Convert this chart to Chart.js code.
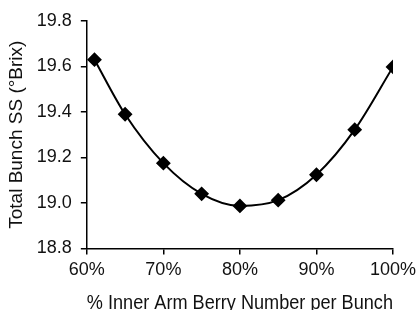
<!DOCTYPE html>
<html>
<head>
<meta charset="utf-8">
<script src="https://cdn.jsdelivr.net/npm/chart.js@4"></script>
<style>
  html, body { margin: 0; padding: 0; background: #fff; }
  #wrap { width: 417px; height: 310px; position: relative; }
</style>
</head>
<body>
<div id="wrap"><canvas id="chart"></canvas></div>
<script>
// values
const innerArmPct = [61, 65, 70, 75, 80, 85, 90, 95, 100];
const totalSS = [19.63, 19.39, 19.175, 19.04, 18.987, 19.012, 19.124, 19.322, 19.598];
const xTickValues = [60, 70, 80, 90, 100];
const yTickValues = [18.8, 19.0, 19.2, 19.4, 19.6, 19.8];

const family = "'Liberation Sans', Arial, sans-serif";
const tickFont = { family: family, size: 18 };

new Chart(document.getElementById('chart').getContext('2d'), {
    type: 'scatter',
    data: {
        datasets: [{
            data: innerArmPct.map((x, i) => ({ x: x, y: totalSS[i] })),
            showLine: true,
            borderColor: '#000',
            borderWidth: 2,
            cubicInterpolationMode: 'monotone',
            pointStyle: 'rectRot',
            pointRadius: 6,
            pointBackgroundColor: '#000',
            pointBorderColor: '#000'
        }]
    },
    options: {
        responsive: true,
        maintainAspectRatio: false,
        animation: false,
        layout: { padding: { top: 21, right: 2, left: 5, bottom: 0 } },
        plugins: { legend: { display: false }, tooltip: { enabled: false } },
        scales: {
            x: {
                type: 'linear',
                min: 60,
                max: 100,
                afterFit: s => { s.paddingRight = 24; },
                ticks: {
                    stepSize: 5,
                    color: '#111',
                    font: tickFont,
                    padding: 5,
                    maxRotation: 0,
                    callback: v => xTickValues.includes(v) ? v + '%' : ''
                },
                grid: { drawOnChartArea: false, color: '#000', tickLength: 6, lineWidth: 1.5 },
                border: { color: '#000', width: 1.5 },
                title: { display: true, text: '% Inner Arm Berry Number per Bunch', color: '#111', font: { family: family, size: 20 }, padding: { top: 5, bottom: -5 } }
            },
            y: {
                min: 18.8,
                max: 19.8,
                ticks: {
                    stepSize: 0.1,
                    color: '#111',
                    font: tickFont,
                    padding: 9,
                    callback: v => {
                        const r = Math.round(v * 10) / 10;
                        return yTickValues.some(t => Math.abs(t - r) < 1e-6) ? r.toFixed(1) : '';
                    }
                },
                grid: { drawOnChartArea: false, color: '#000', tickLength: 6, lineWidth: 1.5 },
                border: { color: '#000', width: 1.5 },
                title: { display: true, text: 'Total Bunch SS (°Brix)', color: '#111', font: { family: family, size: 19 }, padding: { top: 0, bottom: 0 } }
            }
        }
    }
});
</script>
</body>
</html>
